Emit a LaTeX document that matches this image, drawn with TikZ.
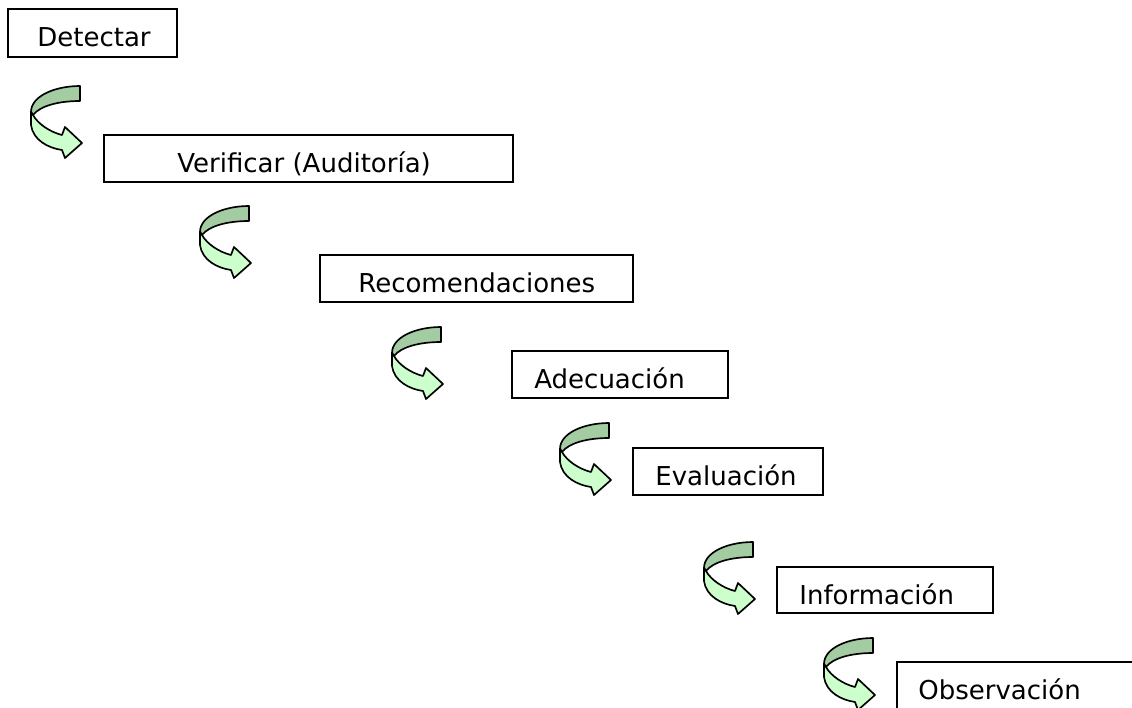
\documentclass[tikz,border=0pt]{standalone}
\usepackage{fontspec}
\setmainfont{DejaVu Sans}
\usetikzlibrary{fit}

\definecolor{turndark}{RGB}{163,204,163}
\definecolor{turnlight}{RGB}{204,255,204}

\tikzset{
  box/.style={draw, line width=0.85pt, inner sep=0pt},
  word/.style={anchor=base west, inner sep=0pt, font=\fontsize{14.8}{17}\selectfont},
  turn/.pic={
    \filldraw[fill=turndark, line width=0.95pt, line join=round]
      (0,0) .. controls (-25,0) and (-49,10) .. (-49,26)
      -- (-47,29) .. controls (-40,20) and (-22,15) .. (0,15) -- cycle;
    \filldraw[fill=turnlight, line width=0.95pt, line join=round]
      (-49,26) -- (-49,39) .. controls (-47,54) and (-32,62) .. (-18,64)
      -- (-15,72) -- (2,57) -- (-15,41) -- (-18,49)
      .. controls (-30,46) and (-42,38) .. (-47,29) -- cycle;
  }
}

\begin{document}
\begin{tikzpicture}[x=0.02cm, y=-0.02cm]
\useasboundingbox (0,0) rectangle (1132,707);
\clip (0,0) rectangle (1132,707);
\fill[white] (0,0) rectangle (1132,707);

% steps
\node[box, fit={(8,9) (177,57)}] (detectar) {};
\node[word] (detectarT) at (37,46) {Detectar};

\node[box, fit={(104,135) (513,182)}] (verificar) {};
\node[word] (verificarT) at (177,172) {Verificar (Auditoría)};

\node[box, fit={(320,255) (633,302)}] (recomendaciones) {};
\node[word] (recomendacionesT) at (358,292) {Recomendaciones};

\node[box, fit={(512,351) (728,398)}] (adecuacion) {};
\node[word] (adecuacionT) at (534,388) {Adecuación};

\node[box, fit={(633,448) (823,495)}] (evaluacion) {};
\node[word] (evaluacionT) at (655,485) {Evaluación};

\node[box, fit={(777,567) (993,613)}] (informacion) {};
\node[word] (informacionT) at (799,604) {Información};

\node[box, fit={(897,662) (1145,720)}] (observacion) {};
\node[word] (observacionT) at (918,699) {Observación};

% turns
\pic at (80,86) {turn};
\pic at (249,206) {turn};
\pic at (441,327) {turn};
\pic at (609,423) {turn};
\pic at (753,542) {turn};
\pic at (873,638) {turn};
\end{tikzpicture}
\end{document}
